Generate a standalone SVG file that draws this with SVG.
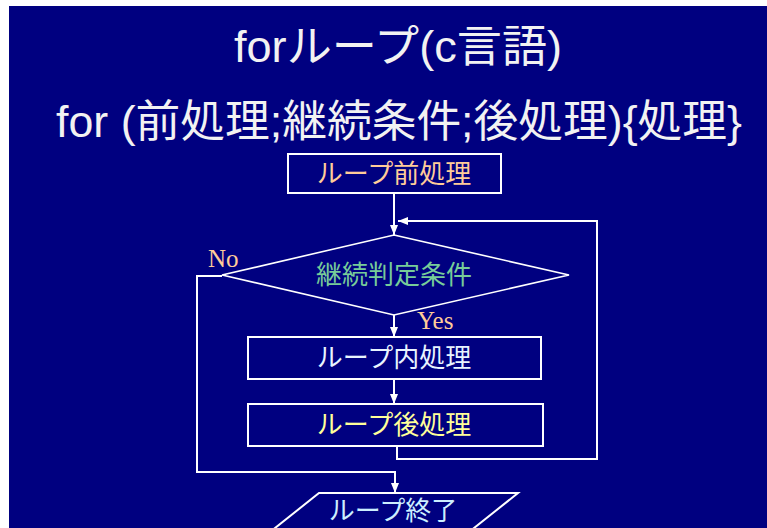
<svg xmlns="http://www.w3.org/2000/svg" width="767" height="528" viewBox="0 0 767 528">
<style>
.bg{fill:#000080}
.box{fill:none;stroke:#ffffff;stroke-width:2}
.dia{fill:none;stroke:#ffffff;stroke-width:1.6}
.ln{fill:none;stroke:#ffffff;stroke-width:2}
.title{font-family:"Liberation Sans","Noto Sans CJK JP",sans-serif;font-size:44px;fill:#f2f2f2}
.lbl{font-family:"Noto Sans CJK JP","Liberation Sans",sans-serif;font-size:26px}
.yn{font-family:"Liberation Serif",serif;font-size:25px;fill:#ffcc99}
</style>
<defs>
<marker id="ah" markerUnits="userSpaceOnUse" markerWidth="10" markerHeight="8" refX="10" refY="4" orient="auto">
<path d="M0,0 L10,4 L0,8 z" fill="#ffffff"/>
</marker>
</defs>
<rect x="0" y="0" width="767" height="528" fill="#ffffff"/>
<rect class="bg" x="9" y="6" width="758" height="522"/>
<g id="title">
<text class="title" x="398" y="62" text-anchor="middle" textLength="328" lengthAdjust="spacingAndGlyphs">forループ(c言語)</text>
<text class="title" x="399" y="137" text-anchor="middle" textLength="686" lengthAdjust="spacingAndGlyphs">for (前処理;継続条件;後処理){処理}</text>
</g>
<g id="connectors">
<polyline class="ln" points="394,193 394,235" marker-end="url(#ah)"/>
<polyline class="ln" points="397,446 397,459 597,459 597,221 398,221" marker-end="url(#ah)"/>
<polyline class="ln" points="222,276 197,276 197,472 395,472 395,493" marker-end="url(#ah)"/>
<polyline class="ln" points="394,315 394,337" marker-end="url(#ah)"/>
<polyline class="ln" points="394,379 394,404" marker-end="url(#ah)"/>
<text class="yn" x="208" y="267">No</text>
<text class="yn" x="417" y="329">Yes</text>
</g>
<g id="pre">
<rect class="box" x="288" y="154" width="213" height="39"/>
<text class="lbl" x="394" y="183" text-anchor="middle" fill="#ffcc99">ループ前処理</text>
</g>
<g id="cond">
<polygon class="dia" points="394,235 569,275 394,315 222,275"/>
<text class="lbl" x="394" y="284" text-anchor="middle" fill="#77cc99">継続判定条件</text>
</g>
<g id="body">
<rect class="box" x="248" y="337" width="293" height="42"/>
<text class="lbl" x="394" y="367" text-anchor="middle" fill="#e8f4ff">ループ内処理</text>
</g>
<g id="post">
<rect class="box" x="248" y="404" width="295" height="42"/>
<text class="lbl" x="394" y="434" text-anchor="middle" fill="#ffff99">ループ後処理</text>
</g>
<g id="end">
<polygon class="box" points="319,493 518,493 459,540 260,540"/>
<text class="lbl" x="393" y="520" text-anchor="middle" fill="#cceeff">ループ終了</text>
</g>
</svg>
